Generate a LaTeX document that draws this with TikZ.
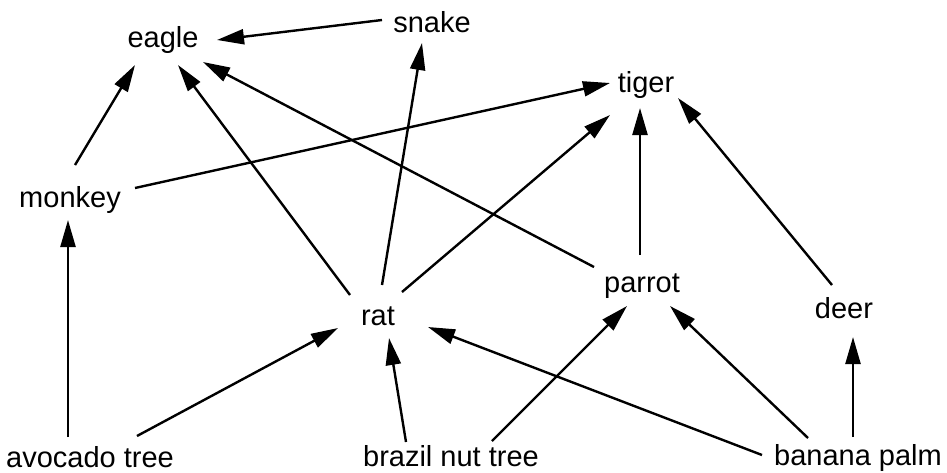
\documentclass[tikz,border=0pt]{standalone}
\usepackage{fontspec}
\setmainfont{Liberation Sans}
\usetikzlibrary{arrows.meta}
\begin{document}
\begin{tikzpicture}[x=1pt,y=-1pt,
  lbl/.style={inner sep=0pt, text height=20pt, text depth=6pt, font=\fontsize{29}{34}\selectfont},
  edge/.style={line width=2.4pt, -{Triangle[length=27pt,width=15pt]}}]
\useasboundingbox (0,0) rectangle (947,472);
\node[lbl] (E) at (163,40) {eagle};
\node[lbl] (S) at (432,25) {snake};
\node[lbl] (T) at (646,85) {tiger};
\node[lbl] (M) at (70,200) {monkey};
\node[lbl] (R) at (378,318) {rat};
\node[lbl] (P) at (642,285) {parrot};
\node[lbl] (D) at (844,311) {deer};
\node[lbl] (A) at (90,460) {avocado tree};
\node[lbl] (B) at (451,459) {brazil nut tree};
\node[lbl] (N) at (858,458) {banana palm};
% edges
\draw[edge] ([shift={(-50,-5)}]S.center) -- ([shift={(54,0)}]E.center);
\draw[edge] ([shift={(5,-35)}]M.center) -- ([shift={(-28,25)}]E.center);
\draw[edge] ([shift={(-28,-23)}]R.center) -- ([shift={(15,25)}]E.center);
\draw[edge] ([shift={(-48,-18)}]P.center) -- ([shift={(40,22)}]E.center);
\draw[edge] ([shift={(4,-33)}]R.center) -- ([shift={(-10,18)}]S.center);
\draw[edge] ([shift={(65,-12)}]M.center) -- ([shift={(-36,-2)}]T.center);
\draw[edge] ([shift={(24,-26)}]R.center) -- ([shift={(-36,30)}]T.center);
\draw[edge] ([shift={(-2,-30)}]P.center) -- ([shift={(-6,23)}]T.center);
\draw[edge] ([shift={(-12,-26)}]D.center) -- ([shift={(32,13)}]T.center);
\draw[edge] ([shift={(-22,-23)}]A.center) -- ([shift={(-2,20)}]M.center);
\draw[edge] ([shift={(47,-24)}]A.center) -- ([shift={(-40,10)}]R.center);
\draw[edge] ([shift={(-45,-17)}]B.center) -- ([shift={(11,20)}]R.center);
\draw[edge] ([shift={(41,-18)}]B.center) -- ([shift={(-15,21)}]P.center);
\draw[edge] ([shift={(-96,-3)}]N.center) -- ([shift={(50,9)}]R.center);
\draw[edge] ([shift={(-50,-20)}]N.center) -- ([shift={(28,21)}]P.center);
\draw[edge] ([shift={(-5,-21)}]N.center) -- ([shift={(9,26)}]D.center);
\end{tikzpicture}
\end{document}
